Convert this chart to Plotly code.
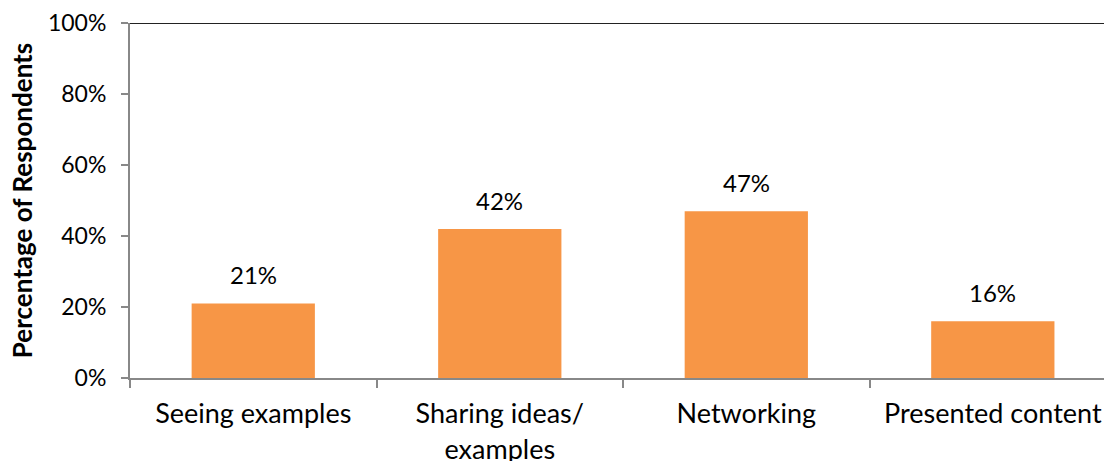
import plotly.graph_objects as go

categories = ["Seeing examples", "Sharing ideas/<br>examples", "Networking", "Presented content"]
values = [21, 42, 47, 16]
labels = ["21%", "42%", "47%", "16%"]
y_ticks = [0, 20, 40, 60, 80, 100]
y_ticktext = ["0%", "20%", "40%", "60%", "80%", "100%"]

FONT = "Lato"

fig = go.Figure()
fig.add_trace(go.Bar(
    x=categories, y=values, width=0.5,
    marker=dict(color="#F79646", line=dict(width=0)),
))
for c, v, t in zip(categories, values, labels):
    fig.add_annotation(x=c, y=v, text=t, showarrow=False, yanchor="bottom", yshift=12,
                       font=dict(family=FONT, size=24, color="#000000"))

fig.update_layout(
    width=1104, height=461,
    margin=dict(l=130, r=0, t=23, b=83),
    plot_bgcolor="white", paper_bgcolor="white",
    showlegend=False,
    font=dict(family=FONT, size=22, color="#000000"),
    xaxis=dict(
        range=[-0.5, 3.451], tickson="boundaries", ticks="outside", ticklen=8,
        tickcolor="#888888", tickwidth=2, showline=True, linecolor="#888888", linewidth=2,
        tickfont=dict(family=FONT, size=27), fixedrange=True, ticklabelstandoff=11,
        automargin=False,
    ),
    yaxis=dict(
        range=[0, 100], tickvals=y_ticks, ticktext=y_ticktext, ticks="outside", ticklen=7,
        tickcolor="#888888", tickwidth=2, showline=True, linecolor="#888888", linewidth=2,
        showgrid=False, zeroline=False, ticklabelstandoff=10, automargin=False,
        title=dict(text="<b>Percentage of Respondents</b>", font=dict(family=FONT, size=26), standoff=8),
        tickfont=dict(family=FONT, size=23),
    ),
    bargap=0.5,
)
fig.add_shape(type="line", xref="paper", yref="y", x0=0, x1=1, y0=100, y1=100,
              line=dict(color="#222222", width=2))

fig.write_html("out.html")
